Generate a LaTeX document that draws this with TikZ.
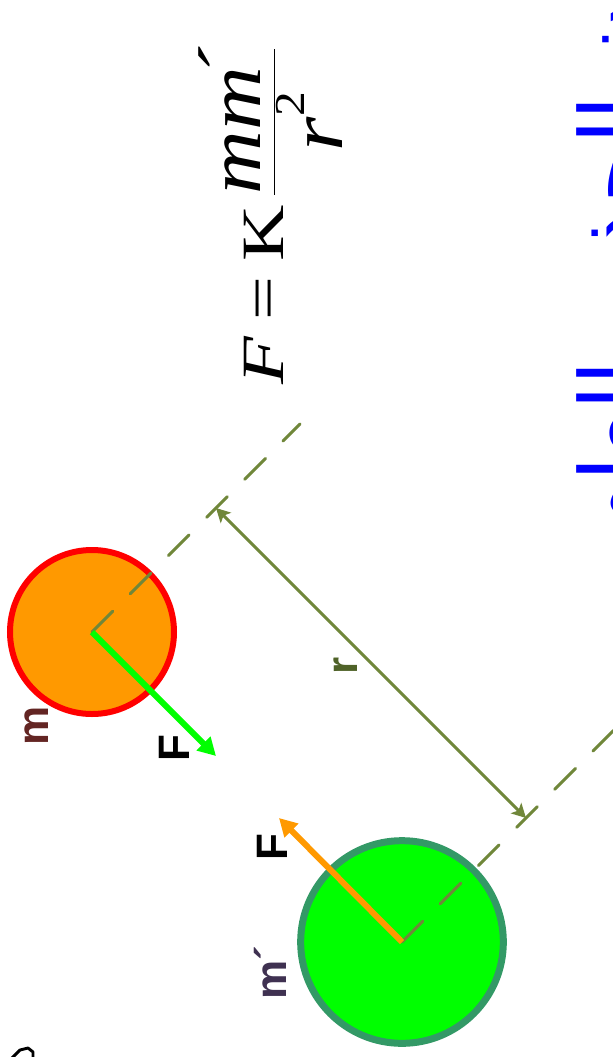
\documentclass[tikz,border=0pt]{standalone}
\usepackage{fontspec}
\setmainfont{Liberation Serif}
\newfontfamily\labelfont{Liberation Sans}
\newfontfamily\arabicfont[Script=Arabic]{DejaVu Sans}
\TeXXeTstate=1
\usetikzlibrary{arrows.meta}
\definecolor{massorange}{RGB}{255,153,0}
\definecolor{massgreen}{RGB}{0,255,0}
\definecolor{rimgreen}{RGB}{51,153,102}
\definecolor{lineolive}{RGB}{112,135,58}
\definecolor{darkolive}{RGB}{79,98,40}
\definecolor{mbrown}{RGB}{99,37,35}
\definecolor{mpurple}{RGB}{63,49,81}
\tikzset{
  mass/.style={circle, inner sep=0pt},
  lbl/.style={font=\labelfont\bfseries\fontsize{33}{33}\selectfont, rotate=90, inner sep=0pt},
  force/.style={line width=4.5pt, -{Triangle[length=13.3pt,width=14pt]}},
  axisline/.style={lineolive, line width=2.2pt, line cap=round, dash pattern=on 22pt off 18.5pt},
  dimline/.style={lineolive, line width=2.2pt, {Stealth[length=10.5pt,width=11pt,inset=2.5pt]}-{Stealth[length=10.5pt,width=11pt,inset=2.5pt]}}
}
\newcommand\wide[1]{\scalebox{1.3}[1]{#1}}
\newcommand\bigpart[1]{\scalebox{1.16}[1]{\fontsize{57}{57}\selectfont\itshape #1}}
\begin{document}
\begin{tikzpicture}[x=0.75pt,y=-0.75pt]
\useasboundingbox (0,0) rectangle (613,1057);
\clip (0,0) rectangle (613,1057);

% the two masses
\node[mass, fill=massorange, draw=red, line width=4.5pt, minimum size=123pt] (m) at (92,632) {};
\node[mass, fill=massgreen, draw=rimgreen, line width=5.25pt, minimum size=152pt] (mm) at (402,942) {};

% dashed lines through the centres
\coordinate (d1) at (300,424);
\coordinate (d2) at (620,724);
\draw[axisline] (m.center) -- (d1);
\draw[axisline] (mm.center) -- (d2);

% distance r
\coordinate (r1) at (216,508);
\coordinate (r2) at (526,818);
\draw[dimline] (r1) -- (r2);
\node[lbl, text=darkolive] (rlabel) at (346,666) {r};

% forces
\coordinate (Fm) at (216,756);
\coordinate (Fmm) at (279,818);
\draw[force, massgreen] (m.center) -- (Fm);
\draw[force, massorange] (mm.center) -- (Fmm);

\node[lbl, text=mbrown] (mlabel) at (37,726) {m};
\node[lbl] (F1) at (174,748) {F};
\node[lbl] (F2) at (272,847) {F};
\node[lbl, text=mpurple] (mmlabel) at (270,973) {m´};

% law
\node[rotate=90, inner sep=0pt, anchor=base west, font=\fontsize{45}{54}\selectfont] (law) at (283,385)
  {$\displaystyle\wide{\itshape F}\mkern9mu\wide{=}\mkern8mu\wide{K}\mkern5mu\frac{\bigpart{mm\kern-.12em\raisebox{.12em}{´}}}{\raisebox{-12pt}{\bigpart{r\raisebox{.5em}{\fontsize{32}{32}\selectfont\upshape 2}}}}$};

% title, cut by the page edge
\node[rotate=90, anchor=base, inner sep=0pt, text=blue, font=\arabicfont\fontsize{66}{66}\selectfont] (title) at (643,200)
  {\beginR قانون الجذب العام\endR};

\draw[line width=2.2pt, line join=round] (12,1058) -- (20,1050) -- (28,1048) -- (33,1052) -- (33,1058);
\end{tikzpicture}
\end{document}
